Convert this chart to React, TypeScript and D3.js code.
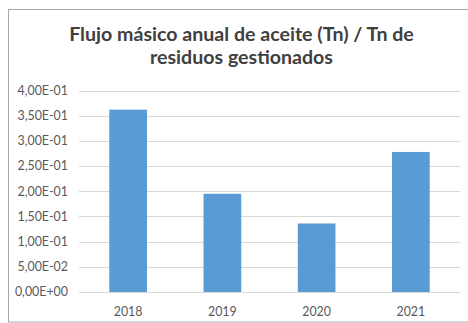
import React from "react";
import * as d3 from "d3";

const categories = ["2018", "2019", "2020", "2021"];
const values = [0.362, 0.195, 0.136, 0.278];
const yTicks = [0, 0.05, 0.1, 0.15, 0.2, 0.25, 0.3, 0.35, 0.4];
const titleLines = ["Flujo másico anual de aceite (Tn) / Tn de", "residuos gestionados"];

const fmt = (v: number) => {
  if (v === 0) return "0,00E+00";
  const e = Math.floor(Math.log10(v) + 1e-9);
  const m = v / Math.pow(10, e);
  const es = (e < 0 ? "-" : "+") + String(Math.abs(e)).padStart(2, "0");
  return m.toFixed(2).replace(".", ",") + "E" + es;
};

export default function App() {
  const W = 468, H = 323;
  const x = d3.scaleBand<string>().domain(categories).range([81, 458]).paddingInner(0.6).paddingOuter(0.3);
  const y = d3.scaleLinear().domain([0, 0.4]).range([292, 90.5]);
  const font = "Lato, 'Open Sans', sans-serif";
  return (
    <svg width={W} height={H} style={{ position: "absolute", left: 0, top: 0, background: "#fff" }}>
      <rect x={8.5} y={9.5} width={470} height={312.5} fill="#fff" stroke="#a6a6a6" strokeWidth={1} />
      {titleLines.map((t, i) => (
        <text key={i} x={241.5} y={40.7 + i * 23.6} textAnchor="middle" fontFamily={font} fontWeight={700} fontSize={19.6} fill="#404040">
          {t}
        </text>
      ))}
      {yTicks.map((t) => (
        <g key={t}>
          <line x1={79} x2={460} y1={Math.round(y(t)) + 0.5} y2={Math.round(y(t)) + 0.5} stroke="#d9d9d9" strokeWidth={1} />
          <text x={68} y={y(t)} dy="0.35em" textAnchor="end" fontFamily={font} fontSize={12.4} fill="#595959">
            {fmt(t)}
          </text>
        </g>
      ))}
      {categories.map((c, i) => (
        <g key={c}>
          <rect x={x(c)} y={y(values[i])} width={x.bandwidth()} height={y(0) - y(values[i])} fill="#5b9bd5" />
          <text x={(x(c) as number) + x.bandwidth() / 2} y={315.5} textAnchor="middle" fontFamily={font} fontSize={12.4} fill="#595959">
            {c}
          </text>
        </g>
      ))}
    </svg>
  );
}
